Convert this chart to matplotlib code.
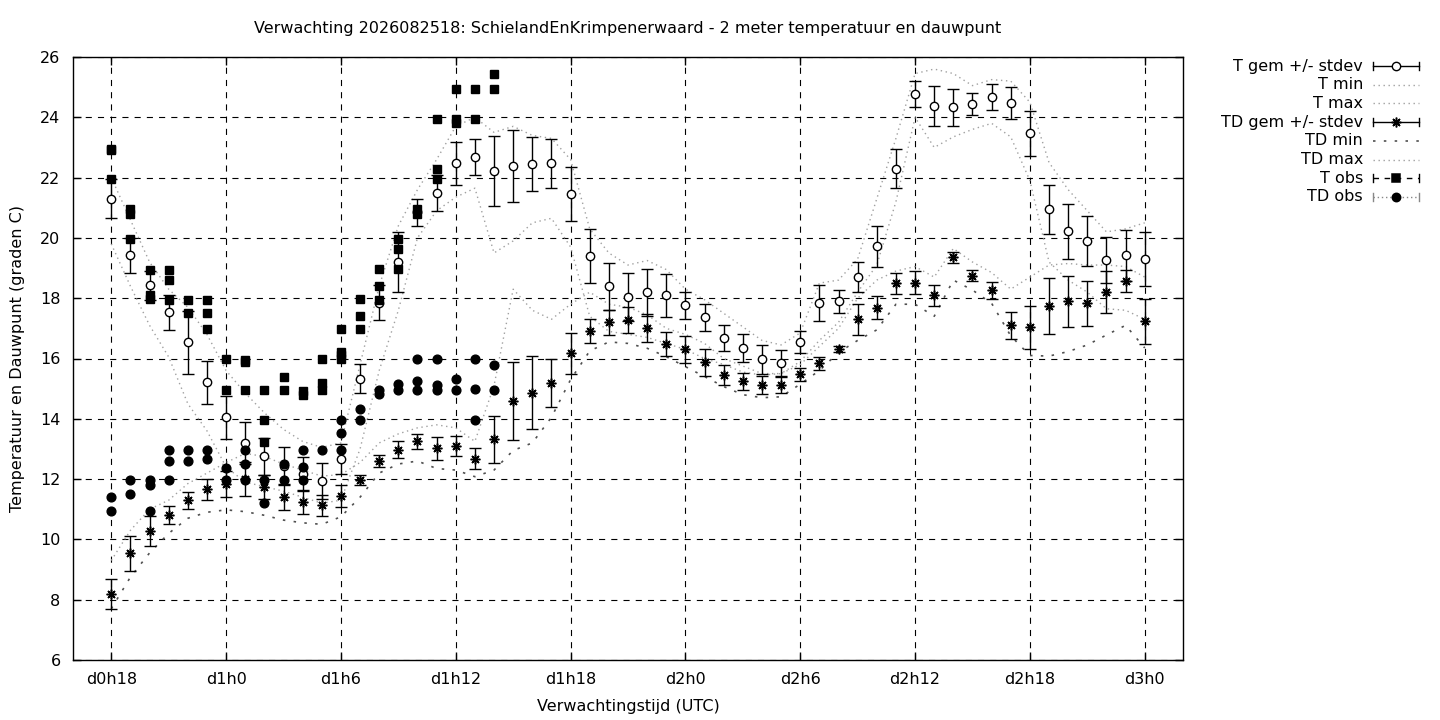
import matplotlib

matplotlib.use("Agg")
import matplotlib.pyplot as plt
from matplotlib.lines import Line2D
import numpy as np

plt.rcParams["font.family"] = ["DejaVu Sans"]

# forecast hours since d0h0
hours = np.arange(18, 73)

t_mean = [21.30, 19.42, 18.43, 17.53, 16.54, 15.21, 14.05, 13.19, 12.75, 12.45,
          12.17, 11.94, 12.66, 15.33, 17.85, 19.19, 20.85, 21.48, 22.47, 22.67,
          22.22, 22.39, 22.44, 22.47, 21.46, 19.39, 18.40, 18.04, 18.19, 18.09,
          17.76, 17.36, 16.67, 16.35, 15.97, 15.84, 16.54, 17.84, 17.90, 18.69,
          19.72, 22.30, 24.76, 24.37, 24.33, 24.44, 24.66, 24.46, 23.47, 20.95,
          20.22, 19.90, 19.27, 19.42, 19.30]
t_std = [0.65, 0.58, 0.48, 0.58, 1.05, 0.72, 0.72, 0.69, 0.60, 0.60,
         0.55, 0.60, 0.50, 0.48, 0.58, 1.00, 0.45, 0.60, 0.70, 0.60,
         1.17, 1.20, 0.90, 0.80, 0.90, 0.90, 0.78, 0.80, 0.77, 0.72,
         0.45, 0.45, 0.43, 0.45, 0.48, 0.43, 0.36, 0.60, 0.38, 0.50,
         0.67, 0.64, 0.43, 0.67, 0.62, 0.37, 0.43, 0.53, 0.75, 0.81,
         0.92, 0.82, 0.75, 0.85, 0.90]
t_min = [19.8, 18.4, 17.1, 16.05, 14.5, 13.6, 12.4, 11.9, 11.75, 11.6,
         11.4, 11.2, 11.3, 13.0, 15.6, 17.6, 20.0, 20.9, 21.35, 21.65,
         19.5, 19.9, 20.5, 20.65, 19.7, 17.4, 16.9, 16.8, 16.7, 16.5,
         16.3, 16.0, 15.8, 15.55, 15.45, 15.5, 15.9, 16.6, 17.2, 18.2,
         19.1, 21.2, 24.0, 23.0, 23.35, 23.6, 23.8, 23.35, 21.9, 19.2,
         18.6, 18.2, 17.65, 17.6, 17.3]
t_max = [22.0, 20.6, 19.2, 18.3, 17.7, 16.8, 15.6, 14.85, 14.2, 13.65,
         13.25, 13.05, 13.2, 15.8, 18.4, 20.4, 21.6, 22.6, 23.7, 24.0,
         23.5, 23.7, 23.4, 23.3, 22.6, 20.3, 19.5, 19.1, 19.25, 18.95,
         18.3, 17.95, 17.5, 17.05, 16.6, 16.45, 16.85, 18.5, 18.6, 19.3,
         21.3, 23.3, 25.45, 25.6, 25.45, 25.05, 25.25, 25.2, 24.5, 22.5,
         21.6, 20.9, 20.2, 20.3, 20.5]

td_mean = [8.19, 9.54, 10.29, 10.81, 11.30, 11.66, 11.83, 12.00, 11.75, 11.39,
           11.25, 11.13, 11.44, 11.97, 12.60, 12.98, 13.26, 13.02, 13.10, 12.68,
           13.32, 14.59, 14.87, 15.20, 16.17, 16.90, 17.20, 17.28, 17.01, 16.47,
           16.30, 15.88, 15.44, 15.24, 15.13, 15.13, 15.47, 15.84, 16.31, 17.30,
           17.68, 18.49, 18.52, 18.09, 19.36, 18.74, 18.26, 17.10, 17.03, 17.74,
           17.90, 17.83, 18.20, 18.57, 17.23]
td_std = [0.50, 0.58, 0.50, 0.29, 0.28, 0.34, 0.44, 0.57, 0.40, 0.40,
          0.40, 0.35, 0.35, 0.18, 0.20, 0.27, 0.25, 0.38, 0.33, 0.36,
          0.77, 1.29, 1.20, 0.80, 0.69, 0.40, 0.41, 0.42, 0.47, 0.40,
          0.44, 0.45, 0.33, 0.28, 0.30, 0.27, 0.20, 0.22, 0.10, 0.51,
          0.38, 0.34, 0.37, 0.35, 0.18, 0.18, 0.28, 0.45, 0.70, 0.92,
          0.85, 0.74, 0.69, 0.38, 0.75]
td_min = [7.7, 8.75, 9.55, 10.2, 10.7, 10.9, 10.98, 10.92, 10.8, 10.64,
          10.55, 10.5, 10.75, 11.4, 12.2, 12.5, 12.6, 12.35, 12.3, 12.08,
          12.3, 12.95, 13.2, 14.05, 15.3, 16.25, 16.55, 16.5, 16.34, 16.06,
          15.73, 15.4, 15.07, 14.8, 14.7, 14.73, 15.15, 15.6, 16.2, 16.6,
          16.95, 17.8, 17.8, 17.4, 18.6, 18.27, 17.83, 16.75, 16.1, 16.08,
          16.23, 16.45, 16.78, 17.1, 16.35]
td_max = [9.3, 10.3, 11.0, 11.3, 11.85, 12.2, 12.55, 12.85, 12.75, 12.5,
          12.3, 12.1, 12.15, 12.55, 13.2, 13.5, 13.7, 13.8, 13.7, 13.25,
          15.1, 18.3, 17.6, 17.3, 17.8, 18.2, 17.8, 17.7, 17.45, 17.0,
          16.8, 16.5, 16.0, 15.75, 15.5, 15.5, 15.8, 16.4, 17.0, 18.0,
          18.6, 18.9, 19.05, 18.7, 19.65, 19.2, 18.85, 18.3, 18.7, 19.1,
          19.15, 19.1, 19.1, 19.05, 18.7]

# station observations, several per hour
obs_hours = list(range(18, 39))
t_obs = [[22.95, 22.9, 21.95], [20.95, 20.8, 19.95], [18.95, 18.1, 17.97],
         [18.95, 18.6, 17.95], [17.95, 17.5], [17.95, 17.5, 16.97],
         [15.98, 14.95], [15.95, 15.9, 14.95], [14.95, 13.95, 13.23],
         [15.4, 14.95], [14.92, 14.8], [15.97, 15.2, 14.95],
         [16.97, 16.22, 16.1, 15.97], [17.96, 17.4, 16.97], [18.96, 18.4, 17.94],
         [19.95, 19.62, 18.96], [20.95, 20.8], [23.95, 22.3, 21.97],
         [24.95, 23.95, 23.8], [24.95, 23.95], [25.43, 24.95]]
td_obs = [[11.4, 10.95], [11.96, 11.5], [11.96, 11.8, 10.95],
          [12.96, 12.6, 11.96], [12.96, 12.6], [12.96, 12.68],
          [12.38, 11.97], [12.96, 12.5, 11.96], [11.96, 11.2],
          [12.5, 11.96], [12.96, 12.4, 11.96], [12.96],
          [13.95, 13.52, 12.96], [14.31, 13.95], [14.95, 14.83],
          [15.15, 14.95], [15.97, 15.24, 14.95], [15.97, 15.12, 14.95],
          [15.31, 14.95], [15.97, 15.0, 13.95], [15.8, 14.95]]

tick_hours = list(range(18, 73, 6))
tick_labels = [f"d{h // 24}h{h % 24}" for h in tick_hours]

W, H = 1440, 720
FS = 11.5
LIGHT = "#a0a0a0"
DARK = "#505050"
light_ls = (0, (1, 2.6))
dark_ls = (0, (1.5, 5))
star = (8, 2, 0)

fig = plt.figure(figsize=(W / 100, H / 100), dpi=100)
ax = fig.add_axes([73 / W, 60 / H, 1110 / W, 603 / H])

ax.errorbar(hours, t_mean, yerr=t_std, fmt="o", ms=6, mfc="white", mec="black",
            mew=1, ecolor="black", elinewidth=1, capsize=4, capthick=1, zorder=4)
ax.plot(hours, t_min, color=LIGHT, lw=1, ls=light_ls, zorder=2)
ax.plot(hours, t_max, color=LIGHT, lw=1, ls=light_ls, zorder=2)
ax.errorbar(hours, td_mean, yerr=td_std, fmt="none", ecolor="black",
            elinewidth=1, capsize=4, capthick=1, zorder=4)
ax.plot(hours, td_mean, ls="none", marker=star, ms=7, color="black", mew=1.1,
        zorder=5)
ax.plot(hours, td_min, color=DARK, lw=1.2, ls=dark_ls, zorder=2)
ax.plot(hours, td_max, color=LIGHT, lw=1, ls=light_ls, zorder=2)

tx = [h for h, vals in zip(obs_hours, t_obs) for _ in vals]
ty = [v for vals in t_obs for v in vals]
dx = [h for h, vals in zip(obs_hours, td_obs) for _ in vals]
dy = [v for vals in td_obs for v in vals]
ax.plot(tx, ty, ls="none", marker="s", ms=6, color="black", zorder=6)
ax.plot(dx, dy, ls="none", marker="o", ms=6.3, color="black", zorder=6)

ax.set_xlim(16, 74)
ax.set_ylim(6, 26)
ax.set_xticks(tick_hours)
ax.set_xticklabels(tick_labels)
ax.set_yticks(range(6, 27, 2))
ax.tick_params(direction="in", length=6, width=1, top=True, right=True,
               labelsize=FS, pad=9)
ax.grid(True, color="black", lw=0.8, ls=(0, (5.5, 5.5)))
ax.set_axisbelow(True)
for sp in ax.spines.values():
    sp.set_linewidth(1)

ax.set_xlabel("Verwachtingstijd (UTC)", fontsize=FS)
ax.xaxis.label.set_va("center")
ax.xaxis.set_label_coords(0.5, -47 / 603)
ax.set_ylabel("Temperatuur en Dauwpunt (graden C)", fontsize=FS)
ax.yaxis.label.set_va("center")
ax.yaxis.set_label_coords(-55 / 1110, 0.5)
fig.text(628 / W, 1 - 29 / H,
         "Verwachting 2026082518: SchielandEnKrimpenerwaard - 2 meter temperatuur en dauwpunt",
         ha="center", va="center", fontsize=FS)

# gnuplot-style key: label right-aligned, sample to the right
key_rows = [
    ("T gem +/- stdev", "err", "o"),
    ("T min", "light", None),
    ("T max", "light", None),
    ("TD gem +/- stdev", "err", star),
    ("TD min", "dark", None),
    ("TD max", "light", None),
    ("T obs", "dash", "s"),
    ("TD obs", "dot", "o"),
]
x0, x1 = 1373, 1419
for i, (label, kind, mk) in enumerate(key_rows):
    py = 66 + 18.7 * i
    fy = 1 - py / H
    fig.text(1363 / W, fy, label, ha="right", va="center", fontsize=FS)
    xs = [x0 / W, x1 / W]
    cap = 4 / H
    if kind == "light":
        fig.add_artist(Line2D(xs, [fy, fy], color=LIGHT, lw=1, ls=light_ls))
        continue
    if kind == "dark":
        fig.add_artist(Line2D(xs, [fy, fy], color=DARK, lw=1.2, ls=dark_ls))
        continue
    style = {"err": "-", "dash": (0, (4, 4)), "dot": (0, (1, 2))}[kind]
    lcol = "#888888" if kind == "dot" else "black"
    fig.add_artist(Line2D(xs, [fy, fy], color=lcol, lw=1, ls=style))
    for xe in xs:
        fig.add_artist(Line2D([xe, xe], [fy - cap, fy + cap], color=lcol, lw=1))
    if mk == "o" and kind == "err":
        fig.add_artist(Line2D([(x0 + x1) / 2 / W], [fy], ls="none", marker="o",
                              ms=6, mfc="white", mec="black", mew=1))
    else:
        fig.add_artist(Line2D([(x0 + x1) / 2 / W], [fy], ls="none", marker=mk,
                              ms=7 if mk == star else 6, color="black", mew=1.1))

fig.savefig("out.png", dpi=100)
plt.close(fig)
